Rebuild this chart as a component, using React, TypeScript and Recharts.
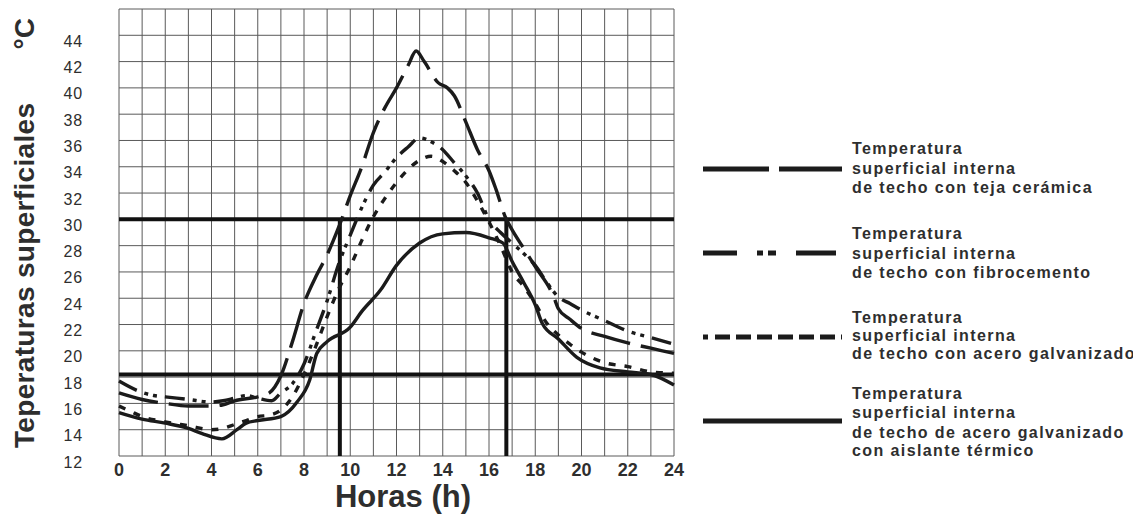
import React from "react";
import { LineChart, Line, XAxis, YAxis, CartesianGrid, ReferenceLine } from "recharts";

// ---- data (hours, °C) ----
const tejaHours = [0, 1, 2, 3, 4, 4.5, 5, 6, 6.5, 7, 7.5, 8, 8.5, 9, 9.5, 10, 10.5, 11, 11.5, 12, 12.5, 12.85, 13.2, 13.8, 14.2, 14.5, 15, 15.5, 16, 16.3, 16.7, 17, 17.5, 18, 18.8, 19, 19.5, 20, 21, 22, 23, 24];
const tejaValues = [16.8, 16.3, 16.0, 15.8, 15.8, 15.9, 16.2, 16.5, 16.8, 18.1, 20.7, 23.6, 25.6, 27.3, 29.4, 31.8, 34.0, 36.6, 38.5, 40.0, 41.7, 42.8, 42.0, 40.4, 40.0, 39.4, 37.4, 35.3, 33.7, 32.3, 30.2, 29.2, 27.8, 26.4, 24.1, 23.2, 22.4, 21.7, 21.1, 20.6, 20.2, 19.8];

const fibroHours = [0, 0.9, 1.5, 2, 3, 4, 4.5, 5, 5.5, 6, 6.6, 7, 7.5, 8, 8.5, 9, 9.5, 10, 10.5, 11, 11.5, 12, 12.5, 13, 13.5, 14, 14.5, 15, 15.5, 16, 16.5, 17, 17.5, 18, 18.5, 19, 19.5, 20, 21, 22, 23, 24];
const fibroValues = [17.7, 16.9, 16.6, 16.5, 16.3, 16.1, 16.2, 16.4, 16.6, 16.4, 16.2, 16.8, 17.5, 19.0, 21.4, 23.8, 26.6, 28.8, 30.9, 32.6, 33.6, 34.7, 35.5, 36.2, 35.9, 35.3, 34.3, 33.3, 32.0, 30.0, 29.0, 28.2, 27.4, 26.5, 25.2, 24.1, 23.6, 23.1, 22.3, 21.5, 21.0, 20.5];

const aceroHours = [0, 0.5, 1, 2, 3, 4, 4.5, 5, 5.5, 6, 6.5, 7, 7.5, 8, 8.5, 9, 9.5, 10, 10.5, 11, 11.5, 12, 12.5, 13, 13.5, 14, 14.5, 15, 15.5, 16, 16.5, 17, 17.5, 18, 18.5, 19, 19.5, 20, 21, 22, 23, 24];
const aceroValues = [15.8, 15.4, 15.0, 14.6, 14.3, 14.0, 14.1, 14.4, 14.7, 15.0, 15.1, 15.5, 16.5, 18.2, 20.3, 22.6, 24.7, 26.4, 28.4, 30.2, 31.6, 32.8, 33.8, 34.5, 34.8, 34.4, 33.7, 32.8, 31.4, 29.8, 28.0, 26.0, 24.9, 23.6, 22.1, 21.2, 20.5, 19.9, 19.1, 18.8, 18.4, 18.3];

const aislanteHours = [0, 1, 2, 3, 3.6, 4.45, 5.1, 5.5, 6, 7, 7.7, 8.25, 8.55, 9, 10, 10.5, 11.3, 12, 13, 14, 15, 16, 16.6, 17, 17.5, 18, 18.3, 19, 19.8, 20.8, 22, 23, 24];
const aislanteValues = [15.3, 14.8, 14.5, 14.1, 13.7, 13.3, 14.0, 14.5, 14.7, 15.0, 16.1, 17.8, 19.8, 20.7, 21.8, 23.0, 24.6, 26.5, 28.2, 28.9, 29.0, 28.6, 28.2, 26.8, 25.2, 23.5, 22.1, 20.9, 19.5, 18.7, 18.4, 18.2, 17.4];

const xTicks = [0, 1, 2, 3, 4, 5, 6, 7, 8, 9, 10, 11, 12, 13, 14, 15, 16, 17, 18, 19, 20, 21, 22, 23, 24];
const yTicks = [12, 14, 16, 18, 20, 22, 24, 26, 28, 30, 32, 34, 36, 38, 40, 42, 44, 46];
const comfortLimits = [30, 18.2];
const comfortHours = [9.55, 16.75];

const legendLabels = [
  ["Temperatura", "superficial interna", "de techo con teja cerámica"],
  ["Temperatura", "superficial interna", "de techo con fibrocemento"],
  ["Temperatura", "superficial interna", "de techo con acero galvanizado"],
  ["Temperatura", "superficial interna", "de techo de acero galvanizado", "con aislante térmico"],
];

const toPoints = (hs: number[], vs: number[]) => hs.map((h, i) => ({ h, v: vs[i] }));

const series = [
  { key: "teja", data: toPoints(tejaHours, tejaValues), dash: "40 11", legendDash: "66 10" },
  { key: "fibro", data: toPoints(fibroHours, fibroValues), dash: "20 8 4 5 4 8", legendDash: "34 20 6 5 8 20 40" },
  { key: "acero", data: toPoints(aceroHours, aceroValues), dash: "7 9", legendDash: "5 7 15 6 15 6 15 6 15 6 15 6 15 6 5" },
  { key: "aislante", data: toPoints(aislanteHours, aislanteValues), dash: undefined, legendDash: undefined },
];

const FONT = '"Liberation Sans", Arial, Helvetica, sans-serif';
const INK = "#1b1b1b";
const TXT = "#2e2e2e";

const XTick = (props: any) => {
  const { x, payload } = props;
  if (payload.value % 2 !== 0) return <g />;
  return (
    <text x={x} y={462} textAnchor="middle" dominantBaseline="central" fontFamily={FONT} fontWeight="bold" fontSize={18} fill={TXT}>
      {payload.value}
    </text>
  );
};

const YTick = (props: any) => {
  const { y, payload } = props;
  if (payload.value === 46) return <g />;
  return (
    <text x={75} y={y + 6} textAnchor="end" dominantBaseline="central" fontFamily={FONT} fontSize={16} letterSpacing={0.8} fill={TXT}>
      {payload.value}
    </text>
  );
};

const legendLineY = [161, 245, 329, 413];
const legendBaselines = [
  [145.5, 165.5, 184.5],
  [230.5, 250.5, 269.5],
  [314.5, 332.5, 350.5],
  [390.5, 409.5, 429.5, 447.5],
];

export default function App() {
  const W = 1133;
  const H = 509;
  return (
    <div style={{ position: "relative", width: W, height: H }}>
      <LineChart width={W} height={H} margin={{ top: 1, right: 467, bottom: 0, left: 0 }}>
        <CartesianGrid stroke="#5a5a5a" strokeWidth={1} />
        <XAxis
          type="number"
          dataKey="h"
          domain={[0, 24]}
          ticks={xTicks}
          interval={0}
          axisLine={false}
          tickLine={false}
          height={61}
          tick={<XTick />}
          allowDuplicatedCategory={false}
        />
        <YAxis
          type="number"
          domain={[12, 46]}
          ticks={yTicks}
          interval={0}
          axisLine={false}
          tickLine={false}
          width={111}
          tick={<YTick />}
        />
        {comfortLimits.map((v) => (
          <ReferenceLine key={"h" + v} y={v} stroke="#111" strokeWidth={4} />
        ))}
        {comfortHours.map((hr) => (
          <ReferenceLine
            key={"v" + hr}
            segment={[
              { x: hr, y: 12 },
              { x: hr, y: comfortLimits[0] },
            ]}
            stroke="#111"
            strokeWidth={4}
          />
        ))}
        {series.map((s) => (
          <Line
            key={s.key}
            data={s.data}
            dataKey="v"
            type="monotone"
            stroke={INK}
            strokeWidth={3.4}
            strokeDasharray={s.dash}
            dot={false}
            activeDot={false}
            isAnimationActive={false}
          />
        ))}
      </LineChart>
      <svg width={W} height={H} style={{ position: "absolute", left: 0, top: 0, pointerEvents: "none" }}>
        <text
          x={26}
          y={440}
          transform="rotate(-90 26 440)"
          fontFamily={FONT}
          fontWeight="bold"
          fontSize={28}
          fill={TXT}
          textLength={345}
          lengthAdjust="spacing"
        >
          Teperaturas superficiales
        </text>
        <text x={26} y={10} transform="rotate(-90 26 10)" textAnchor="end" fontFamily={FONT} fontWeight="bold" fontSize={28} fill={TXT}>
          °C
        </text>
        <text x={395} y={499} textAnchor="middle" fontFamily={FONT} fontWeight="bold" fontSize={31} fill={TXT}>
          Horas (h)
        </text>
        {series.map((s, i) => (
          <g key={"lg" + s.key}>
            <line x1={695} x2={834} y1={legendLineY[i]} y2={legendLineY[i]} stroke={INK} strokeWidth={5} strokeDasharray={s.legendDash} />
            {legendLabels[i].map((t, j) => (
              <text key={j} x={844} y={legendBaselines[i][j]} fontFamily={FONT} fontWeight="bold" fontSize={16} letterSpacing={1.4} fill={TXT}>
                {t}
              </text>
            ))}
          </g>
        ))}
      </svg>
    </div>
  );
}
